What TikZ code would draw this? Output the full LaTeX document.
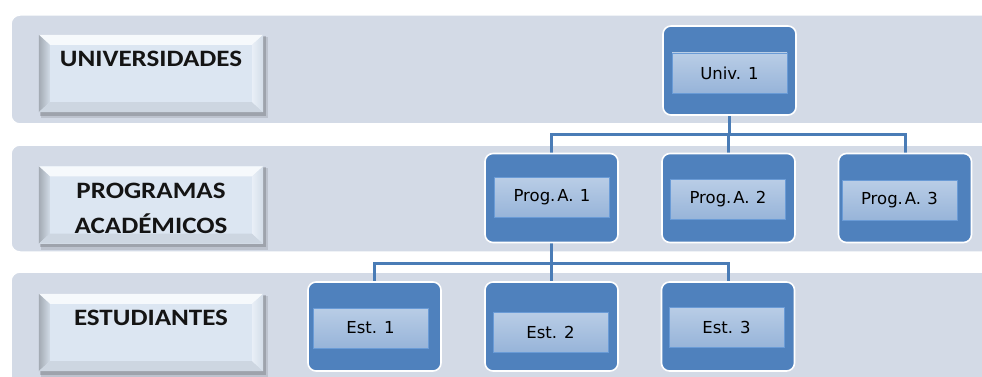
\documentclass[tikz,border=0pt]{standalone}
\usepackage{fontspec}
\setmainfont{DejaVu Sans}
\newfontfamily\labfont[FakeStretch=1.15]{Carlito}
\definecolor{bandc}{HTML}{D3DAE6}
\definecolor{boxc}{HTML}{4F81BD}
\definecolor{innertop}{HTML}{B9CDE6}
\definecolor{innerbot}{HTML}{97B4D9}
\definecolor{innerline}{HTML}{6A9BD6}
\definecolor{connc}{HTML}{4A7CB6}
\definecolor{labbase}{HTML}{DCE6F2}
\pgfdeclarelayer{bg}
\pgfdeclarelayer{lines}
\pgfsetlayers{bg,lines,main}
\tikzset{
  band/.style={fill=bandc, draw=white, line width=1.5pt, rounded corners=9pt},
  unit/.style={fill=boxc, draw=white, line width=1.6pt, rounded corners=8pt,
    minimum width=133pt, minimum height=89pt, inner sep=0pt},
  tag/.style={top color=innertop, bottom color=innerbot, draw=innerline, line width=0.9pt,
    minimum width=115pt, minimum height=40pt, inner sep=0pt,
    font=\fontsize{16.5}{19}\selectfont, text=black},
  conn/.style={draw=connc, line width=3pt},
  labbox/.style={fill=labbase, minimum width=224pt, minimum height=77pt, inner sep=0pt},
  labtext/.style={font=\labfont\bfseries\fontsize{23.5}{35}\selectfont, text=black!92, align=center, inner sep=0pt}
}
% bevelled frame around a label box
\newcommand\bevelframe[1]{%
  \fill[black, opacity=0.10] ([shift={(2,2)}]#1.north west) rectangle ([shift={(5,6)}]#1.south east);
  \fill[black, opacity=0.16] ([shift={(1,1)}]#1.north west) rectangle ([shift={(3,3.5)}]#1.south east);
  \fill[labbase] (#1.north west) rectangle (#1.south east);
  \fill[white!75!labbase] (#1.north west) -- (#1.north east) -- ([shift={(-11,10)}]#1.north east) -- ([shift={(11,10)}]#1.north west) -- cycle;
  \shade[left color=black!26!labbase, right color=black!5!labbase] (#1.north west) -- ([shift={(11,10)}]#1.north west) -- ([shift={(11,-10)}]#1.south west) -- (#1.south west) -- cycle;
  \fill[black!7!labbase] (#1.south west) -- ([shift={(11,-10)}]#1.south west) -- ([shift={(-11,-10)}]#1.south east) -- (#1.south east) -- cycle;
  \shade[left color=white!35!labbase, right color=black!4!labbase] (#1.north east) -- ([shift={(-11,10)}]#1.north east) -- ([shift={(-11,-10)}]#1.south east) -- (#1.south east) -- cycle;
}
\begin{document}
\begin{tikzpicture}[x=1pt, y=-1pt]
\useasboundingbox (0,0) rectangle (982,377);

% level bands
\begin{pgfonlayer}{bg}
  \fill[white] (0,0) rectangle (982,377);
  \draw[band] (11,15) rectangle (1000,124);
  \draw[band] (11,145) rectangle (1000,252);
  \draw[band] (11,272) rectangle (1000,400);
\end{pgfonlayer}

% level labels
\node[labbox] (lu) at (151,73.5) {};
\node[labbox] (lp) at (151,205) {};
\node[labbox] (le) at (151,332.5) {};
\bevelframe{lu}
\bevelframe{lp}
\bevelframe{le}
\node[labtext] (lut) at (151,59) {UNIVERSIDADES};
\node[labtext] (lpt) at (151,208) {PROGRAMAS\\ACADÉMICOS};
\node[labtext] (let) at (151,318) {ESTUDIANTES};

% organisation units
\node[unit] (u1) at (729.5,70.5) {};
\node[tag]  (u1t) at (729.5,73) {Univ. 1};

\node[unit] (p1) at (551.5,198) {};
\node[tag]  (p1t) at (552,197.5) {Prog.\hspace{2pt}A.\hspace{1pt} 1};
\node[unit] (p2) at (728.5,198) {};
\node[tag]  (p2t) at (728,199.5) {Prog.\hspace{2pt}A.\hspace{1pt} 2};
\node[unit] (p3) at (905,198) {};
\node[tag]  (p3t) at (899.5,200.5) {Prog.\hspace{2pt}A.\hspace{1pt} 3};

\node[unit] (e1) at (374.5,326.5) {};
\node[tag]  (e1t) at (370.5,328) {Est. 1};
\node[unit] (e2) at (551.5,326.5) {};
\node[tag]  (e2t) at (550.5,332) {Est. 2};
\node[unit] (e3) at (728,326.5) {};
\node[tag]  (e3t) at (726.5,327) {Est. 3};

% tree connectors
\begin{pgfonlayer}{lines}
  \coordinate (bus1) at (0,135);
  \coordinate (bus2) at (0,263);
  \draw[conn] (u1.south) -- (u1.south |- bus1);
  \draw[conn] (p1.north) -- (p1.north |- bus1) -- (p3.north |- bus1) -- (p3.north);
  \draw[conn] (p2.north) -- (p2.north |- bus1);
  \draw[conn] (p1.south) -- (p1.south |- bus2);
  \draw[conn] (e1.north) -- (e1.north |- bus2) -- (e3.north |- bus2) -- (e3.north);
  \draw[conn] (e2.north) -- (e2.north |- bus2);
\end{pgfonlayer}
\end{tikzpicture}
\end{document}
